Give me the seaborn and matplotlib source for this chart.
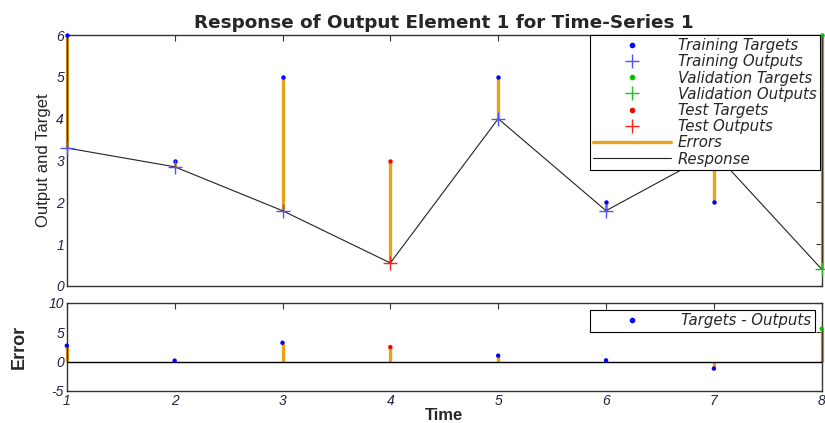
import numpy as np
import pandas as pd
import matplotlib
matplotlib.use('Agg')
import matplotlib.pyplot as plt
from matplotlib.lines import Line2D
import seaborn as sns

# --- data ---
time = [1, 2, 3, 4, 5, 6, 7, 8]
targets = [6.0, 3.0, 5.0, 3.0, 5.0, 2.0, 2.0, 6.0]
outputs = [3.3, 2.85, 1.8, 0.55, 4.0, 1.8, 3.2, 0.4]
subset = ['train', 'train', 'train', 'test', 'train', 'train', 'train', 'val']

ERR_COLOR = '#E8A31A'
colors = {'train': '#0000FF', 'val': '#00C000', 'test': '#FF0000'}
out_colors = {'train': '#5050FF', 'val': '#20C020', 'test': '#FF2020'}

df = pd.DataFrame({'time': time, 'target': targets, 'output': outputs, 'subset': subset})
df['error'] = df['target'] - df['output']

sns.set_style('white')
plt.rcParams['font.family'] = ['Liberation Sans', 'DejaVu Sans']
plt.rcParams['axes.unicode_minus'] = False
plt.rcParams['xtick.direction'] = 'in'
plt.rcParams['ytick.direction'] = 'in'

fig = plt.figure(figsize=(8.25, 4.23), dpi=100)
ax1 = fig.add_axes([0.081, 0.324, 0.915, 0.593])
ax2 = fig.add_axes([0.081, 0.076, 0.915, 0.208])

# legend text: wide italic face
leg_prop = {'family': 'DejaVu Sans', 'style': 'italic', 'size': 10.8}

# --- top panel: targets, outputs, errors, response ---
ax1.vlines(df['time'], df['output'], df['target'], color=ERR_COLOR, lw=2.4, zorder=1,
           clip_on=False)
sns.lineplot(data=df, x='time', y='output', color='#222222', lw=0.8, ax=ax1, zorder=2)

labels = {'train': 'Training', 'val': 'Validation', 'test': 'Test'}
handles = []
for key in ['train', 'val', 'test']:
    sub = df[df['subset'] == key]
    ax1.scatter(sub['time'], sub['target'], marker='.', s=40, color=colors[key],
                zorder=3, linewidths=0, clip_on=False)
    ax1.scatter(sub['time'], sub['output'], marker='+', s=90, color=out_colors[key],
                zorder=3, linewidths=1.0, clip_on=False)
    handles.append(Line2D([], [], marker='.', ls='none', markersize=6, color=colors[key],
                          label=labels[key] + ' Targets'))
    handles.append(Line2D([], [], marker='+', ls='none', markersize=10, color=out_colors[key],
                          label=labels[key] + ' Outputs'))
handles.append(Line2D([], [], color=ERR_COLOR, lw=2.4, label='Errors'))
handles.append(Line2D([], [], color='#222222', lw=0.8, label='Response'))

ax1.set_xlim(1, 8)
ax1.set_ylim(0, 6)
ax1.set_xticks(time)
ax1.set_xticklabels([])
ax1.set_yticks(range(0, 7))
ax1.set_xlabel('')
ax1.set_ylabel('Output and Target', fontsize=12)
ax1.set_title('Response of Output Element 1 for Time-Series 1', fontsize=13.2,
              fontweight='bold', pad=5, family='DejaVu Sans')
leg = ax1.legend(handles=handles, loc='upper right', frameon=True, fancybox=False,
                 borderpad=0.2, labelspacing=0.08, handlelength=5.2, handletextpad=0.5,
                 borderaxespad=0.0, prop=leg_prop)
leg.get_frame().set_edgecolor('black')
leg.get_frame().set_linewidth(0.8)
leg.get_frame().set_alpha(1)
leg.set_bbox_to_anchor((0.9975, 1.0), transform=ax1.transAxes)

# --- bottom panel: errors ---
ax2.axhline(0, color='black', lw=1)
ax2.vlines(df['time'], 0, df['error'], color=ERR_COLOR, lw=2.4, zorder=1, clip_on=False)
pt_colors = [colors[s] for s in df['subset']]
ax2.scatter(df['time'], df['error'], marker='.', s=40, c=pt_colors, linewidths=0, zorder=3,
            clip_on=False)
h = Line2D([], [], marker='.', ls='none', color='#0000FF', markersize=6,
           label='Targets - Outputs')
leg2 = ax2.legend(handles=[h], loc='upper right', fancybox=False, borderpad=0.25,
                  handlelength=5.0, handletextpad=0.8, borderaxespad=0.45, prop=leg_prop)
leg2.get_frame().set_edgecolor('black')
leg2.get_frame().set_linewidth(0.8)
leg2.get_frame().set_alpha(1)

ax2.set_xlim(1, 8)
ax2.set_ylim(-5, 10)
ax2.set_xticks(time)
ax2.set_yticks([-5, 0, 5, 10])
ax2.set_xlabel('Time', fontsize=12, fontweight='bold')
ax2.xaxis.set_label_coords(0.5, -0.19)
ax2.set_ylabel('Error', fontsize=13, fontweight='bold')
ax2.yaxis.set_label_coords(-0.052, 0.5)

for ax in (ax1, ax2):
    for sp in ax.spines.values():
        sp.set_color('#333333')
        sp.set_linewidth(1.0)
    ax.tick_params(axis='both', which='both', length=4, color='#333333',
                   top=True, right=True, labelsize=10, pad=2)
    for t in ax.get_xticklabels() + ax.get_yticklabels():
        t.set_fontstyle('italic')
        t.set_color('#222244')

fig.savefig('out.png', dpi=100)
